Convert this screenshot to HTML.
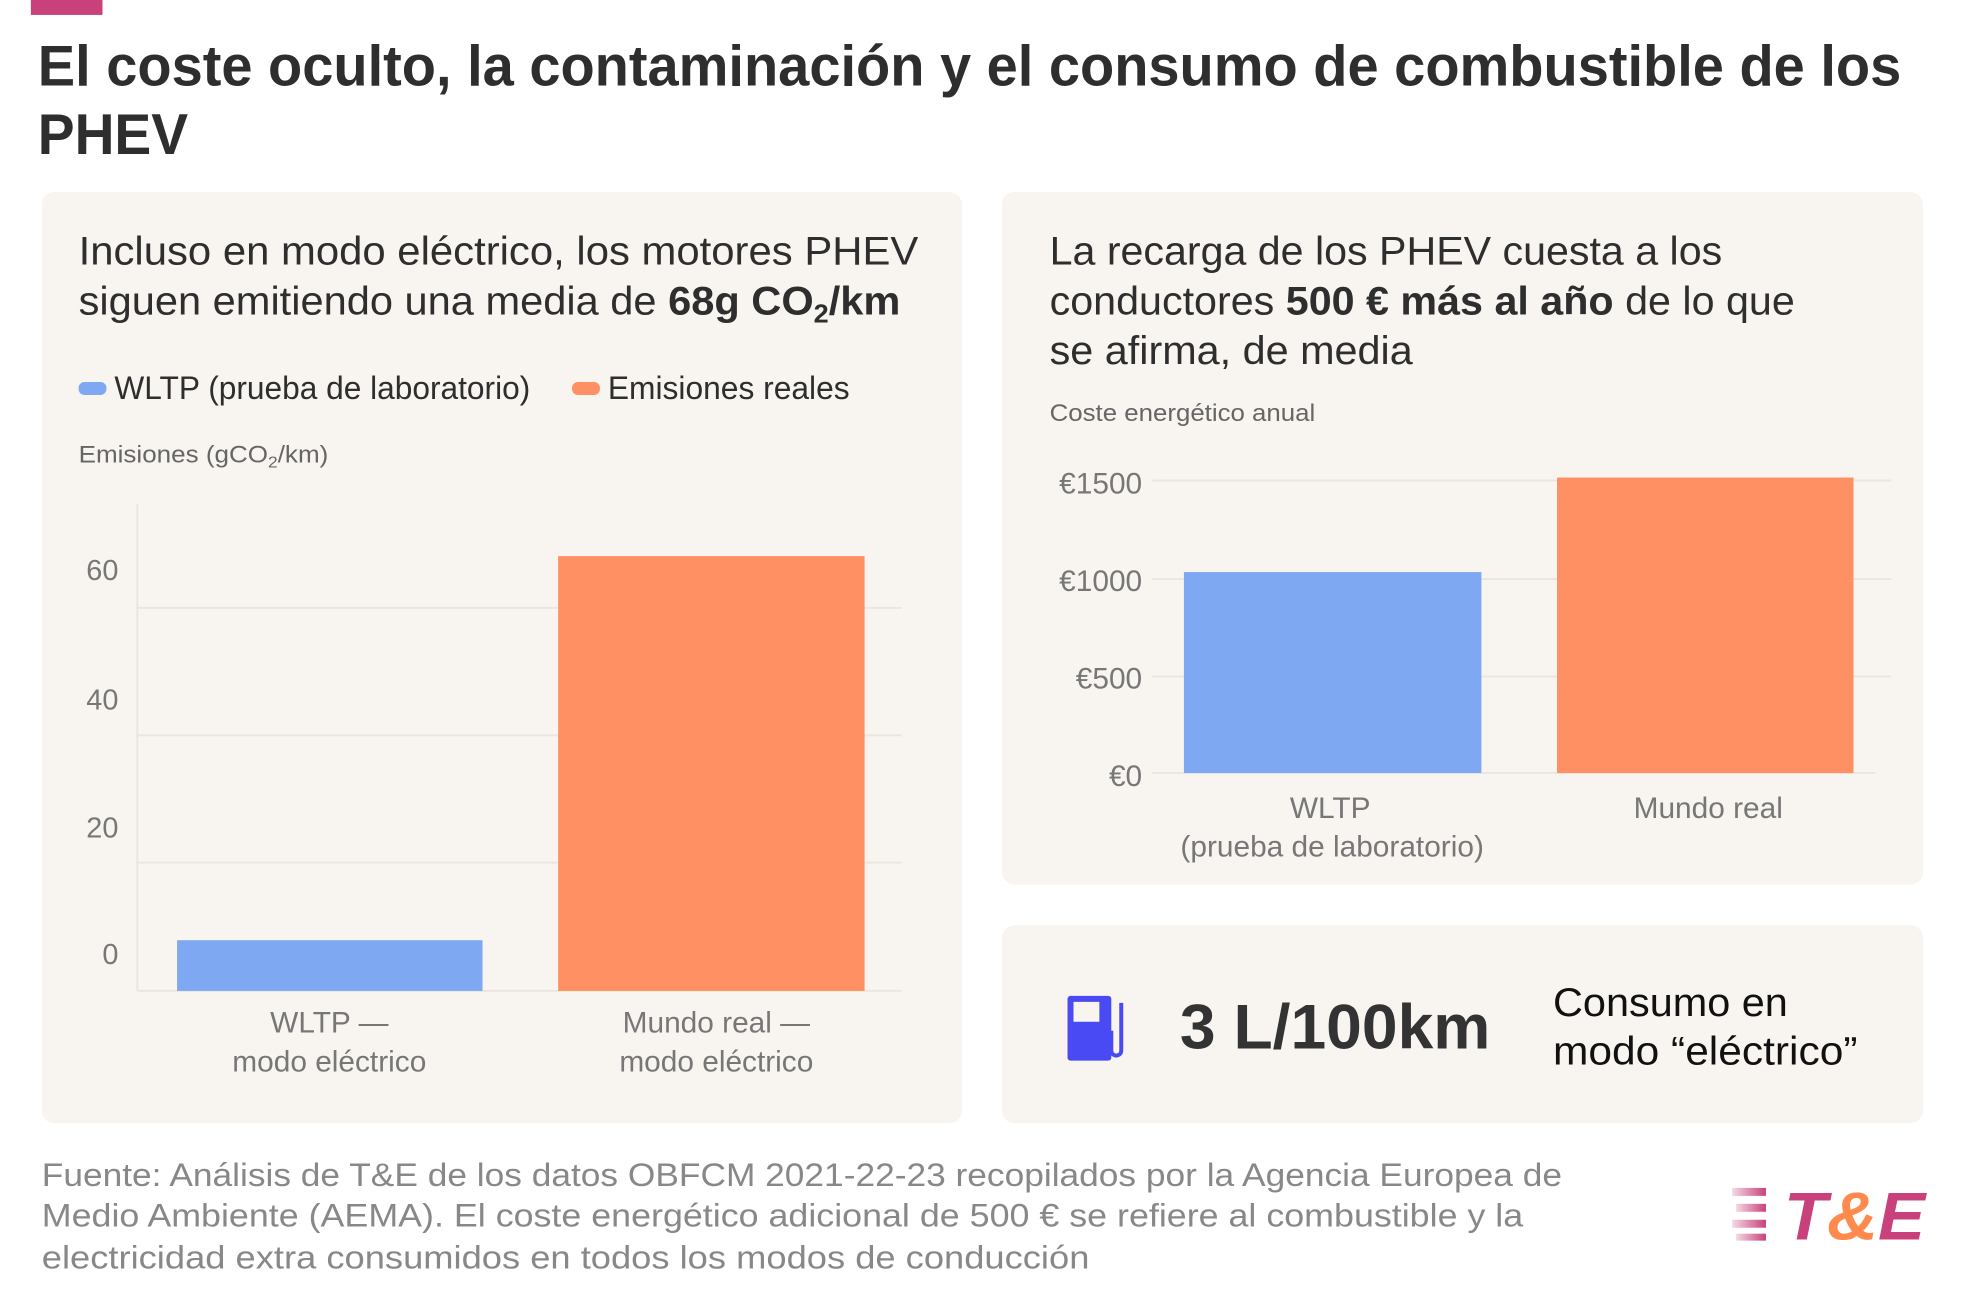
<!DOCTYPE html>
<html><head><meta charset="utf-8"><style>
html,body{margin:0;padding:0;background:#fff;}
svg{display:block;font-family:"Liberation Sans",sans-serif;}
</style></head><body>
<svg width="1964" height="1312" viewBox="0 0 1964 1312" xmlns="http://www.w3.org/2000/svg">
<g transform="scale(0.9949)">
<rect x="31" y="0" width="72" height="15" fill="#c8417b"/>
<text x="38" y="86" font-size="58" font-weight="bold" fill="#2e2e2e" textLength="1873" lengthAdjust="spacingAndGlyphs">El coste oculto, la contaminación y el consumo de combustible de los</text>
<text x="38" y="155" font-size="58" font-weight="bold" fill="#2e2e2e" textLength="151" lengthAdjust="spacingAndGlyphs">PHEV</text>

<rect x="42" y="193" width="925" height="936" rx="13" fill="#f8f4ef"/>
<rect x="1007" y="193" width="926" height="696" rx="13" fill="#f8f4ef"/>
<rect x="1007" y="930" width="926" height="199" rx="13" fill="#f8f4ef"/>

<text x="79" y="266" font-size="40" fill="#2e2e2e" textLength="844" lengthAdjust="spacingAndGlyphs">Incluso en modo eléctrico, los motores PHEV</text>
<text x="79" y="316" font-size="40" fill="#2e2e2e" textLength="826" lengthAdjust="spacingAndGlyphs">siguen emitiendo una media de <tspan font-weight="bold">68g CO</tspan><tspan font-weight="bold" font-size="26" dy="8">2</tspan><tspan font-weight="bold" dy="-8">/km</tspan></text>
<rect x="79" y="384" width="28" height="13" rx="6" fill="#7fa8f3"/>
<text x="115" y="401" font-size="33" fill="#2e2e2e" textLength="418" lengthAdjust="spacingAndGlyphs">WLTP (prueba de laboratorio)</text>
<rect x="575" y="384" width="28" height="13" rx="6" fill="#ff9063"/>
<text x="611" y="401" font-size="33" fill="#2e2e2e" textLength="243" lengthAdjust="spacingAndGlyphs">Emisiones reales</text>
<text x="79" y="465" font-size="24" fill="#666" textLength="251" lengthAdjust="spacingAndGlyphs">Emisiones (gCO<tspan font-size="16" dy="5">2</tspan><tspan dy="-5">/km)</tspan></text>

<g stroke="#ebe6e0" stroke-width="2">
<line x1="138" y1="611" x2="906" y2="611"/>
<line x1="138" y1="739" x2="906" y2="739"/>
<line x1="138" y1="867" x2="906" y2="867"/>
<line x1="138" y1="996" x2="906" y2="996"/>
<line x1="138" y1="507" x2="138" y2="996"/>
</g>
<g font-size="29" fill="#777" text-anchor="end">
<text x="119" y="583">60</text>
<text x="119" y="713">40</text>
<text x="119" y="842">20</text>
<text x="119" y="969">0</text>
</g>
<rect x="178" y="945" width="307" height="51" fill="#7fa8f3"/>
<rect x="561" y="559" width="308" height="437" fill="#ff9063"/>
<g font-size="30" fill="#777" text-anchor="middle">
<text x="331" y="1038">WLTP —</text>
<text x="331" y="1077">modo eléctrico</text>
<text x="720" y="1038">Mundo real —</text>
<text x="720" y="1077">modo eléctrico</text>
</g>

<text x="1055" y="266" font-size="40" fill="#2e2e2e" textLength="676" lengthAdjust="spacingAndGlyphs">La recarga de los PHEV cuesta a los</text>
<text x="1055" y="316" font-size="40" fill="#2e2e2e" textLength="749" lengthAdjust="spacingAndGlyphs">conductores <tspan font-weight="bold">500 € más al año</tspan> de lo que</text>
<text x="1055" y="366" font-size="40" fill="#2e2e2e" textLength="365" lengthAdjust="spacingAndGlyphs">se afirma, de media</text>
<text x="1055" y="423" font-size="24" fill="#666" textLength="267" lengthAdjust="spacingAndGlyphs">Coste energético anual</text>
<g stroke="#ebe6e0" stroke-width="2">
<line x1="1158" y1="483" x2="1901" y2="483"/>
<line x1="1158" y1="582" x2="1901" y2="582"/>
<line x1="1158" y1="680" x2="1901" y2="680"/>
<line x1="1158" y1="777" x2="1885" y2="777"/>
</g>
<g font-size="30" fill="#777" text-anchor="end">
<text x="1148" y="496">€1500</text>
<text x="1148" y="594">€1000</text>
<text x="1148" y="692">€500</text>
<text x="1148" y="790">€0</text>
</g>
<rect x="1190" y="575" width="299" height="202" fill="#7fa8f3"/>
<rect x="1565" y="480" width="298" height="297" fill="#ff9063"/>
<g font-size="30" fill="#777" text-anchor="middle">
<text x="1337" y="822">WLTP</text>
<text x="1339" y="861">(prueba de laboratorio)</text>
<text x="1717" y="822">Mundo real</text>
</g>

<g fill="#4a4af4">
<rect x="1073" y="1001" width="44" height="65" rx="3"/>
<path d="M1127 1008 v48 a5 5 0 0 1 -10 0 v-20" fill="none" stroke="#4a4af4" stroke-width="4"/>
</g>
<rect x="1079" y="1007" width="26" height="20" fill="#f8f4ef"/>
<text x="1186" y="1054" font-size="63" font-weight="bold" fill="#333" textLength="312" lengthAdjust="spacingAndGlyphs">3 L/100km</text>
<text x="1561" y="1021" font-size="40" fill="#111" textLength="236" lengthAdjust="spacingAndGlyphs">Consumo en</text>
<text x="1561" y="1070" font-size="40" fill="#111" textLength="306" lengthAdjust="spacingAndGlyphs">modo “eléctrico”</text>

<g font-size="33" fill="#888">
<text x="42" y="1192" textLength="1528" lengthAdjust="spacingAndGlyphs">Fuente: Análisis de T&amp;E de los datos OBFCM 2021-22-23 recopilados por la Agencia Europea de</text>
<text x="42" y="1233" textLength="1489" lengthAdjust="spacingAndGlyphs">Medio Ambiente (AEMA). El coste energético adicional de 500 € se refiere al combustible y la</text>
<text x="42" y="1275" textLength="1053" lengthAdjust="spacingAndGlyphs">electricidad extra consumidos en todos los modos de conducción</text>
</g>

<defs><linearGradient id="g" x1="0" x2="1"><stop offset="0" stop-color="#c8417b" stop-opacity="0.2"/><stop offset="1" stop-color="#c8417b"/></linearGradient></defs>
<g fill="url(#g)">
<rect x="1741" y="1194" width="34" height="8"/>
<rect x="1745" y="1210" width="30" height="8"/>
<rect x="1741" y="1226" width="34" height="8"/>
<rect x="1745" y="1240" width="30" height="7"/>
</g>
<text x="1793" y="1246" font-size="68" font-weight="bold" font-style="italic" fill="#c8417b" textLength="142" lengthAdjust="spacingAndGlyphs">T<tspan fill="#ff8a4d">&amp;</tspan>E</text>
</g>
</svg>
</body></html>
